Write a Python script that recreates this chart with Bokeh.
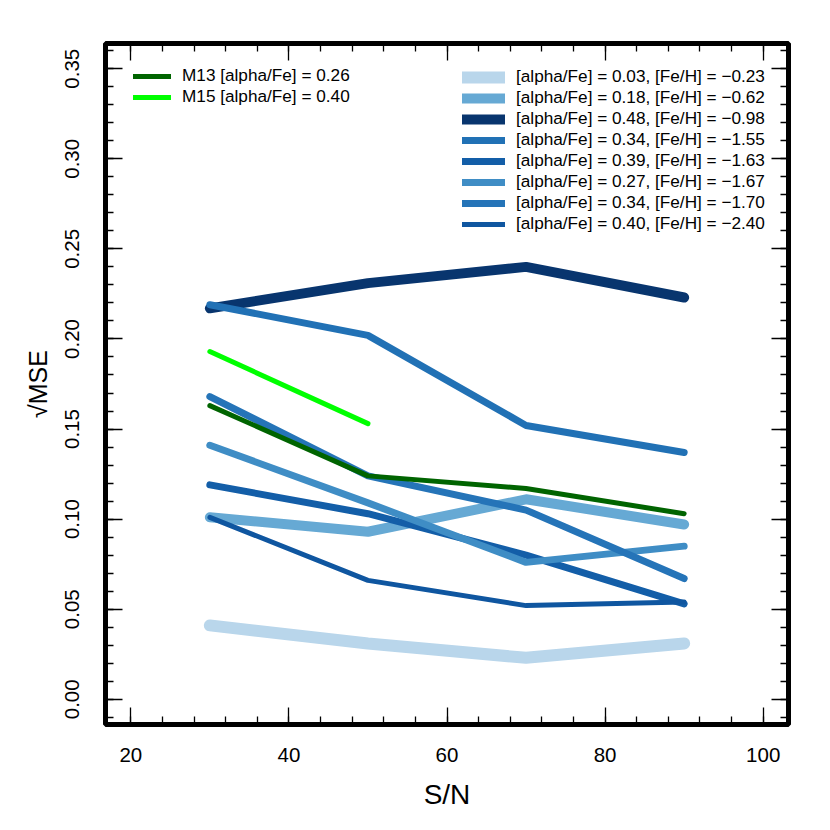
from bokeh.plotting import figure
from bokeh.models import (Range1d, LinearAxis, SingleIntervalTicker, PrintfTickFormatter,
                          CustomJSTickFormatter, Legend, LegendItem)
from bokeh.embed import file_html
from bokeh.resources import INLINE

# ---------------- data ----------------
sn = [30, 50, 70, 90]
sn_m15 = [30, 50]

labels_blue = [
    "[alpha/Fe] = 0.03, [Fe/H] = \u22120.23",
    "[alpha/Fe] = 0.18, [Fe/H] = \u22120.62",
    "[alpha/Fe] = 0.48, [Fe/H] = \u22120.98",
    "[alpha/Fe] = 0.34, [Fe/H] = \u22121.55",
    "[alpha/Fe] = 0.39, [Fe/H] = \u22121.63",
    "[alpha/Fe] = 0.27, [Fe/H] = \u22121.67",
    "[alpha/Fe] = 0.34, [Fe/H] = \u22121.70",
    "[alpha/Fe] = 0.40, [Fe/H] = \u22122.40",
]
mse_023 = [0.041, 0.031, 0.023, 0.031]
mse_062 = [0.101, 0.093, 0.111, 0.097]
mse_098 = [0.217, 0.231, 0.240, 0.223]
mse_155 = [0.219, 0.202, 0.152, 0.137]
mse_163 = [0.119, 0.103, 0.080, 0.053]
mse_167 = [0.141, 0.109, 0.076, 0.085]
mse_170 = [0.168, 0.124, 0.105, 0.067]
mse_240 = [0.101, 0.066, 0.052, 0.054]

label_m13 = "M13 [alpha/Fe] = 0.26"
label_m15 = "M15 [alpha/Fe] = 0.40"
mse_m13 = [0.163, 0.124, 0.117, 0.103]
mse_m15 = [0.193, 0.153]

x_ticks_interval = 20
y_ticks_interval = 0.05

# ---------------- styles ----------------
blue_series = [mse_023, mse_062, mse_098, mse_155, mse_163, mse_167, mse_170, mse_240]
blue_colors = ["#b9d6eb", "#66a9d4", "#08356e", "#2171b5", "#135ea8", "#3f8dc5", "#2574b8", "#0f56a0"]
blue_widths = [12, 10, 10, 7, 7, 7, 7, 5]

FONT = "Liberation Sans"

p = figure(width=814, height=814, output_backend="svg", toolbar_location=None,
           x_range=Range1d(16.8, 103.2), y_range=Range1d(-0.014, 0.364),
           min_border_left=105, min_border_right=26, min_border_top=43, min_border_bottom=90,
           x_axis_label="S/N", y_axis_label="\u221aMSE")
p.xgrid.visible = False
p.ygrid.visible = False
p.outline_line_color = "black"
p.outline_line_width = 5
p.background_fill_color = "white"
p.border_fill_color = "white"

xt = SingleIntervalTicker(interval=x_ticks_interval, num_minor_ticks=5)
yt = SingleIntervalTicker(interval=y_ticks_interval, num_minor_ticks=5)


def style_axis(ax):
    ax.axis_line_color = None
    ax.major_tick_in = 17
    ax.major_tick_out = 0
    ax.minor_tick_in = 8
    ax.minor_tick_out = 0
    ax.major_tick_line_color = "black"
    ax.minor_tick_line_color = "black"
    ax.major_tick_line_width = 1.3
    ax.minor_tick_line_width = 1.3
    ax.major_label_text_font = FONT
    ax.major_label_text_font_size = "20.5px"
    ax.major_label_text_color = "black"
    ax.axis_label_text_font = FONT
    ax.axis_label_text_font_style = "normal"
    ax.axis_label_text_color = "black"


xa = p.xaxis[0]
xa.ticker = xt
style_axis(xa)
xa.major_label_standoff = 23
xa.axis_label_standoff = 14
xa.axis_label_text_font_size = "28px"

ya = p.yaxis[0]
ya.ticker = yt
ya.formatter = PrintfTickFormatter(format="%.2f")
style_axis(ya)
ya.major_label_orientation = "vertical"
ya.major_label_standoff = 26
ya.axis_label_standoff = 11
ya.axis_label_text_font_size = "25px"

empty = CustomJSTickFormatter(code="return ''")
top = LinearAxis(ticker=SingleIntervalTicker(interval=x_ticks_interval, num_minor_ticks=5), formatter=empty)
style_axis(top)
top.major_label_standoff = 0
p.add_layout(top, "above")
right = LinearAxis(ticker=SingleIntervalTicker(interval=y_ticks_interval, num_minor_ticks=5), formatter=empty)
style_axis(right)
right.major_label_standoff = 0
p.add_layout(right, "right")

blue_items = []
for lab, ys, c, w in zip(labels_blue, blue_series, blue_colors, blue_widths):
    r = p.line(sn, ys, line_color=c, line_width=w, line_cap="round", line_join="round")
    blue_items.append(LegendItem(label=lab, renderers=[r]))

r13 = p.line(sn, mse_m13, line_color="#006400", line_width=5, line_cap="round", line_join="round")
r15 = p.line(sn_m15, mse_m15, line_color="#00ff00", line_width=5, line_cap="round", line_join="round")


def make_legend(items, loc, gw):
    lg = Legend(items=items, location=loc, orientation="vertical")
    lg.border_line_alpha = 0
    lg.background_fill_alpha = 0
    lg.padding = 0
    lg.margin = 0
    lg.spacing = 0
    lg.glyph_width = gw
    lg.glyph_height = 20
    lg.label_height = 20
    lg.label_standoff = 11
    lg.label_text_font = FONT
    lg.label_text_font_size = "17.2px"
    lg.label_text_color = "black"
    lg.click_policy = "none"
    return lg


p.add_layout(make_legend([LegendItem(label=label_m13, renderers=[r13]),
                          LegendItem(label=label_m15, renderers=[r15])], (28, 617), 38))
p.add_layout(make_legend(blue_items, (357, 490), 43))

open("out.html", "w").write(file_html(p, INLINE))
